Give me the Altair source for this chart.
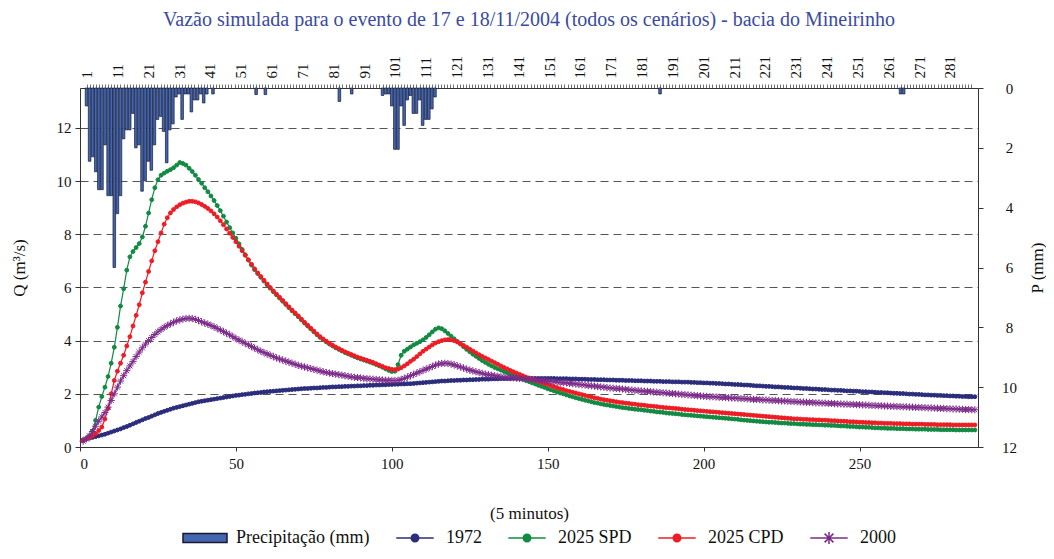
import altair as alt
import pandas as pd

FONT = "Liberation Serif"

# ---------------- data ----------------
steps = list(range(1, 288))  # 5-minute steps

q_1972 = [
    0.27, 0.30, 0.33, 0.36, 0.39, 0.42, 0.45, 0.48, 0.52, 0.56,
    0.60, 0.64, 0.68, 0.73, 0.77, 0.82, 0.87, 0.92, 0.97, 1.02,
    1.07, 1.11, 1.16, 1.21, 1.26, 1.30, 1.34, 1.38, 1.42, 1.46,
    1.49, 1.52, 1.55, 1.58, 1.61, 1.64, 1.67, 1.70, 1.72, 1.74,
    1.76, 1.78, 1.80, 1.82, 1.84, 1.86, 1.88, 1.90, 1.92, 1.94,
    1.95, 1.97, 1.98, 2.00, 2.01, 2.03, 2.04, 2.05, 2.07, 2.08,
    2.09, 2.10, 2.11, 2.12, 2.13, 2.14, 2.15, 2.16, 2.17, 2.18,
    2.19, 2.20, 2.20, 2.21, 2.22, 2.22, 2.23, 2.24, 2.24, 2.25,
    2.26, 2.26, 2.27, 2.27, 2.28, 2.28, 2.29, 2.29, 2.30, 2.30,
    2.31, 2.31, 2.32, 2.32, 2.33, 2.33, 2.34, 2.34, 2.35, 2.35,
    2.36, 2.36, 2.37, 2.37, 2.38, 2.38, 2.39, 2.40, 2.41, 2.42,
    2.43, 2.44, 2.45, 2.46, 2.47, 2.48, 2.48, 2.49, 2.50, 2.50,
    2.51, 2.51, 2.52, 2.52, 2.53, 2.53, 2.54, 2.54, 2.55, 2.55,
    2.55, 2.56, 2.56, 2.56, 2.57, 2.57, 2.57, 2.57, 2.58, 2.58,
    2.58, 2.58, 2.58, 2.58, 2.58, 2.58, 2.58, 2.58, 2.58, 2.58,
    2.58, 2.58, 2.57, 2.57, 2.57, 2.57, 2.56, 2.56, 2.56, 2.55,
    2.55, 2.55, 2.54, 2.54, 2.54, 2.53, 2.53, 2.53, 2.52, 2.52,
    2.52, 2.51, 2.51, 2.51, 2.50, 2.50, 2.50, 2.49, 2.49, 2.49,
    2.48, 2.48, 2.48, 2.47, 2.47, 2.47, 2.46, 2.46, 2.46, 2.45,
    2.45, 2.45, 2.44, 2.44, 2.44, 2.43, 2.43, 2.42, 2.42, 2.41,
    2.41, 2.40, 2.40, 2.39, 2.39, 2.38, 2.37, 2.37, 2.36, 2.35,
    2.35, 2.34, 2.33, 2.33, 2.32, 2.31, 2.30, 2.30, 2.29, 2.28,
    2.28, 2.27, 2.26, 2.26, 2.25, 2.24, 2.24, 2.23, 2.22, 2.22,
    2.21, 2.20, 2.20, 2.19, 2.18, 2.18, 2.17, 2.16, 2.16, 2.15,
    2.14, 2.14, 2.13, 2.13, 2.12, 2.11, 2.11, 2.10, 2.10, 2.09,
    2.08, 2.08, 2.07, 2.07, 2.06, 2.05, 2.05, 2.04, 2.04, 2.03,
    2.02, 2.02, 2.01, 2.01, 2.00, 1.99, 1.99, 1.98, 1.98, 1.97,
    1.96, 1.96, 1.95, 1.95, 1.94, 1.94, 1.93, 1.93, 1.92, 1.92,
    1.91, 1.91, 1.90, 1.90, 1.89, 1.89, 1.89,
]

q_2025_spd = [
    0.25, 0.32, 0.42, 0.60, 1.00, 1.50, 1.90, 2.25, 2.65, 3.15,
    3.75, 4.50, 5.30, 5.95, 6.65, 7.15, 7.35, 7.50, 7.65, 7.90,
    8.30, 8.80, 9.30, 9.75, 10.05, 10.22, 10.30, 10.37, 10.43, 10.50,
    10.60, 10.70, 10.66, 10.60, 10.48, 10.36, 10.22, 10.06, 9.92, 9.75,
    9.60, 9.44, 9.27, 9.08, 8.89, 8.68, 8.46, 8.25, 8.05, 7.85,
    7.64, 7.43, 7.23, 7.03, 6.84, 6.67, 6.52, 6.38, 6.24, 6.10,
    5.97, 5.84, 5.72, 5.60, 5.48, 5.36, 5.24, 5.12, 5.01, 4.90,
    4.78, 4.66, 4.55, 4.44, 4.33, 4.22, 4.12, 4.03, 3.95, 3.87,
    3.80, 3.73, 3.67, 3.61, 3.55, 3.50, 3.45, 3.40, 3.35, 3.31,
    3.27, 3.23, 3.19, 3.15, 3.10, 3.05, 3.00, 2.94, 2.88, 2.84,
    2.85, 3.10, 3.45, 3.60, 3.68, 3.76, 3.84, 3.90, 3.96, 4.03,
    4.12, 4.22, 4.33, 4.43, 4.48, 4.45, 4.37, 4.27, 4.17, 4.07,
    3.97, 3.87, 3.77, 3.67, 3.58, 3.49, 3.41, 3.33, 3.25, 3.18,
    3.11, 3.05, 2.99, 2.94, 2.89, 2.84, 2.79, 2.74, 2.69, 2.65,
    2.60, 2.55, 2.50, 2.46, 2.41, 2.37, 2.32, 2.28, 2.24, 2.19,
    2.15, 2.11, 2.07, 2.03, 2.00, 1.96, 1.92, 1.89, 1.85, 1.82,
    1.79, 1.76, 1.73, 1.70, 1.67, 1.65, 1.62, 1.60, 1.58, 1.56,
    1.54, 1.52, 1.50, 1.48, 1.47, 1.45, 1.44, 1.42, 1.41, 1.40,
    1.38, 1.37, 1.35, 1.34, 1.32, 1.31, 1.30, 1.28, 1.27, 1.26,
    1.25, 1.24, 1.22, 1.21, 1.20, 1.19, 1.18, 1.17, 1.16, 1.15,
    1.14, 1.13, 1.12, 1.11, 1.10, 1.09, 1.08, 1.07, 1.06, 1.05,
    1.04, 1.02, 1.01, 1.00, 0.99, 0.98, 0.97, 0.96, 0.95, 0.94,
    0.93, 0.93, 0.92, 0.91, 0.90, 0.90, 0.89, 0.88, 0.88, 0.87,
    0.86, 0.86, 0.85, 0.85, 0.84, 0.84, 0.83, 0.83, 0.82, 0.82,
    0.81, 0.81, 0.80, 0.79, 0.79, 0.78, 0.77, 0.77, 0.76, 0.75,
    0.75, 0.74, 0.74, 0.73, 0.72, 0.72, 0.71, 0.71, 0.70, 0.70,
    0.70, 0.69, 0.69, 0.69, 0.68, 0.68, 0.68, 0.67, 0.67, 0.67,
    0.67, 0.66, 0.66, 0.66, 0.66, 0.65, 0.65, 0.65, 0.65, 0.65,
    0.64, 0.64, 0.64, 0.64, 0.64, 0.64, 0.64,
]

q_2025_cpd = [
    0.25, 0.30, 0.35, 0.42, 0.50, 0.62, 0.75, 1.05, 1.45, 2.00,
    2.50, 2.85, 3.15, 3.45, 3.80, 4.15, 4.55, 4.95, 5.35, 5.80,
    6.20, 6.60, 7.00, 7.38, 7.72, 8.05, 8.38, 8.62, 8.80, 8.93,
    9.03, 9.11, 9.17, 9.21, 9.24, 9.24, 9.22, 9.18, 9.12, 9.05,
    8.97, 8.88, 8.77, 8.65, 8.51, 8.36, 8.20, 8.04, 7.88, 7.72,
    7.55, 7.38, 7.21, 7.04, 6.87, 6.70, 6.55, 6.41, 6.27, 6.13,
    6.00, 5.87, 5.75, 5.63, 5.51, 5.39, 5.27, 5.15, 5.04, 4.93,
    4.81, 4.69, 4.58, 4.47, 4.36, 4.25, 4.15, 4.06, 3.98, 3.90,
    3.83, 3.76, 3.70, 3.64, 3.58, 3.53, 3.48, 3.43, 3.38, 3.34,
    3.30, 3.26, 3.22, 3.18, 3.13, 3.08, 3.03, 2.98, 2.95, 2.92,
    2.91, 2.93, 2.98, 3.05, 3.13, 3.22, 3.30, 3.40, 3.50, 3.60,
    3.68, 3.76, 3.84, 3.91, 3.96, 4.00, 4.03, 4.04, 4.03, 4.00,
    3.95, 3.89, 3.82, 3.75, 3.68, 3.61, 3.54, 3.47, 3.41, 3.35,
    3.29, 3.23, 3.17, 3.11, 3.05, 2.99, 2.94, 2.88, 2.83, 2.78,
    2.73, 2.68, 2.63, 2.59, 2.55, 2.51, 2.47, 2.43, 2.39, 2.35,
    2.31, 2.27, 2.23, 2.19, 2.16, 2.12, 2.09, 2.06, 2.03, 2.00,
    1.97, 1.94, 1.91, 1.88, 1.85, 1.83, 1.80, 1.78, 1.76, 1.74,
    1.72, 1.70, 1.68, 1.67, 1.65, 1.64, 1.62, 1.61, 1.59, 1.58,
    1.57, 1.55, 1.54, 1.53, 1.52, 1.50, 1.49, 1.48, 1.47, 1.46,
    1.45, 1.44, 1.42, 1.41, 1.40, 1.39, 1.38, 1.37, 1.36, 1.35,
    1.34, 1.33, 1.32, 1.31, 1.30, 1.29, 1.28, 1.27, 1.26, 1.25,
    1.24, 1.23, 1.22, 1.21, 1.20, 1.19, 1.18, 1.17, 1.16, 1.15,
    1.14, 1.13, 1.12, 1.11, 1.10, 1.09, 1.08, 1.07, 1.06, 1.06,
    1.05, 1.04, 1.04, 1.03, 1.03, 1.02, 1.02, 1.01, 1.01, 1.00,
    0.99, 0.99, 0.98, 0.97, 0.97, 0.96, 0.95, 0.95, 0.94, 0.93,
    0.93, 0.92, 0.92, 0.91, 0.91, 0.90, 0.90, 0.89, 0.89, 0.89,
    0.88, 0.88, 0.88, 0.87, 0.87, 0.87, 0.86, 0.86, 0.86, 0.86,
    0.85, 0.85, 0.85, 0.85, 0.84, 0.84, 0.84, 0.84, 0.84, 0.83,
    0.83, 0.83, 0.83, 0.83, 0.83, 0.83, 0.83,
]

q_2000 = [
    0.22, 0.30, 0.42, 0.58, 0.78, 0.97, 1.13, 1.30, 1.50, 1.75,
    2.00, 2.25, 2.48, 2.68, 2.87, 3.05, 3.22, 3.40, 3.57, 3.73,
    3.87, 4.00, 4.12, 4.23, 4.33, 4.42, 4.50, 4.57, 4.63, 4.69,
    4.74, 4.78, 4.81, 4.83, 4.84, 4.83, 4.80, 4.76, 4.71, 4.66,
    4.62, 4.57, 4.52, 4.46, 4.40, 4.34, 4.28, 4.22, 4.15, 4.08,
    4.02, 3.96, 3.90, 3.84, 3.78, 3.72, 3.66, 3.60, 3.55, 3.50,
    3.45, 3.40, 3.35, 3.31, 3.27, 3.23, 3.19, 3.15, 3.11, 3.07,
    3.04, 3.01, 2.98, 2.95, 2.92, 2.89, 2.86, 2.83, 2.80, 2.78,
    2.76, 2.74, 2.72, 2.70, 2.68, 2.66, 2.64, 2.62, 2.61, 2.60,
    2.58, 2.57, 2.56, 2.55, 2.54, 2.53, 2.52, 2.51, 2.51, 2.50,
    2.50, 2.51, 2.54, 2.58, 2.63, 2.68, 2.73, 2.78, 2.83, 2.88,
    2.93, 2.98, 3.03, 3.08, 3.12, 3.14, 3.15, 3.14, 3.12, 3.09,
    3.05, 3.01, 2.97, 2.93, 2.89, 2.86, 2.83, 2.80, 2.77, 2.74,
    2.72, 2.70, 2.68, 2.66, 2.64, 2.63, 2.62, 2.61, 2.60, 2.59,
    2.58, 2.57, 2.56, 2.55, 2.54, 2.53, 2.52, 2.50, 2.49, 2.48,
    2.47, 2.46, 2.44, 2.43, 2.42, 2.41, 2.39, 2.38, 2.37, 2.35,
    2.34, 2.33, 2.31, 2.30, 2.29, 2.27, 2.26, 2.25, 2.23, 2.22,
    2.21, 2.20, 2.19, 2.18, 2.17, 2.15, 2.14, 2.13, 2.12, 2.11,
    2.10, 2.09, 2.08, 2.07, 2.06, 2.05, 2.04, 2.03, 2.02, 2.01,
    2.00, 1.99, 1.98, 1.97, 1.96, 1.95, 1.94, 1.93, 1.92, 1.91,
    1.90, 1.89, 1.89, 1.88, 1.87, 1.86, 1.86, 1.85, 1.84, 1.84,
    1.83, 1.82, 1.82, 1.81, 1.80, 1.79, 1.79, 1.78, 1.77, 1.77,
    1.76, 1.75, 1.75, 1.74, 1.73, 1.73, 1.72, 1.71, 1.71, 1.70,
    1.69, 1.69, 1.68, 1.68, 1.67, 1.66, 1.66, 1.65, 1.65, 1.64,
    1.64, 1.63, 1.62, 1.62, 1.61, 1.61, 1.60, 1.60, 1.59, 1.59,
    1.58, 1.58, 1.57, 1.56, 1.56, 1.55, 1.55, 1.54, 1.54, 1.53,
    1.53, 1.52, 1.52, 1.51, 1.51, 1.50, 1.50, 1.49, 1.49, 1.48,
    1.48, 1.47, 1.47, 1.46, 1.46, 1.45, 1.45, 1.44, 1.44, 1.43,
    1.43, 1.42, 1.42, 1.41, 1.41, 1.40, 1.40,
]

# precipitation (mm) per 5-minute interval (only non-zero intervals)
precip_bar = [1, 2, 3, 4, 5, 6, 7, 8, 9, 10, 11, 12, 13, 14, 15, 16, 17, 18, 19, 20,
              21, 22, 23, 24, 25, 26, 27, 28, 29, 30, 31, 32, 33, 34, 35, 36, 37, 38,
              39, 40, 42, 56, 59, 83, 87, 97, 98, 99, 100, 101, 102, 103, 104, 105,
              106, 107, 108, 109, 110, 111, 112, 113, 114, 187, 265, 266]
precip_mm = [0.60, 2.45, 2.30, 2.80, 3.40, 3.40, 1.90, 3.60, 3.60, 6.00, 4.20, 3.60,
             1.70, 1.40, 1.40, 0.85, 2.00, 1.90, 3.45, 3.10, 2.45, 2.75, 1.90, 1.05,
             0.95, 1.45, 2.50, 1.40, 1.20, 0.30, 0.20, 1.05, 0.20, 0.20, 0.80, 0.40,
             0.40, 0.20, 0.50, 0.20, 0.20, 0.22, 0.22, 0.45, 0.20, 0.25, 0.20, 0.20,
             0.60, 2.05, 2.05, 0.60, 1.25, 0.40, 0.25, 0.85, 0.85, 0.40, 1.25, 1.05,
             1.05, 0.70, 0.30, 0.20, 0.20, 0.20]

top_tick_labels = [1, 11, 21, 31, 41, 51, 61, 71, 81, 91, 101, 111, 121, 131, 141,
                   151, 161, 171, 181, 191, 201, 211, 221, 231, 241, 251, 261, 271, 281]
n_intervals = 288

series_names = ["Precipitação (mm)", "1972", "2025 SPD", "2025 CPD", "2000"]
fill_colors = ["#4466b0", "#2b2d7c", "#128a43", "#ee1c24", "#7d2b8b"]
stroke_colors = ["#151a30", "#2b2d7c", "#128a43", "#ee1c24", "#7d2b8b"]
legend_shapes = [
    "M-1,-0.2H1V0.2H-1Z",
    "M-0.85,0H0.85M0.17,0A0.17,0.17,0,1,1,-0.17,0A0.17,0.17,0,1,1,0.17,0Z",
    "M-0.85,0H0.85M0.17,0A0.17,0.17,0,1,1,-0.17,0A0.17,0.17,0,1,1,0.17,0Z",
    "M-0.85,0H0.85M0.17,0A0.17,0.17,0,1,1,-0.17,0A0.17,0.17,0,1,1,0.17,0Z",
    "M-0.85,0H0.85M-0.2,-0.2L0.2,0.2M-0.2,0.2L0.2,-0.2M0,-0.27V0.27",
]
ASTERISK = "M-1,0H1M0,-1V1M-0.7,-0.7L0.7,0.7M-0.7,0.7L0.7,-0.7"

# ---------------- tables ----------------
rows = []
for name, vals in [("1972", q_1972), ("2025 SPD", q_2025_spd),
                   ("2025 CPD", q_2025_cpd), ("2000", q_2000)]:
    for t, v in zip(steps, vals):
        rows.append({"t": t, "Q": v, "series": name})
df_q = pd.DataFrame(rows)
df_circ = df_q[df_q["series"] != "2000"]
df_star = df_q[df_q["series"] == "2000"]

df_p = pd.DataFrame({"pos": [b - 0.5 for b in precip_bar], "P": precip_mm,
                     "series": series_names[0]})
df_leg = pd.DataFrame({"series": series_names, "t": -100, "Q": 1.0})

# ---------------- scales & axes ----------------
fill_scale = alt.Scale(domain=series_names, range=fill_colors)
stroke_scale = alt.Scale(domain=series_names, range=stroke_colors)
shape_scale = alt.Scale(domain=series_names, range=legend_shapes)

x_scale = alt.Scale(domain=[0, n_intervals], nice=False, zero=False)
q_scale = alt.Scale(domain=[0, 13.5], nice=False)
p_scale = alt.Scale(domain=[0, 12], reverse=True, nice=False)

AX = dict(labelFont=FONT, titleFont=FONT, labelColor="#111", titleColor="#111",
          domainColor="#333", tickColor="#333", titleFontWeight="normal")

x_axis = alt.Axis(values=[0, 50, 100, 150, 200, 250], title="(5 minutos)",
                  labelFontSize=15, titleFontSize=17, tickSize=4, labelPadding=5,
                  titlePadding=34, grid=False, **AX)
q_axis = alt.Axis(values=[0, 2, 4, 6, 8, 10, 12], title="Q (m³/s)",
                  labelFontSize=15, titleFontSize=17, tickSize=5, labelPadding=4,
                  titlePadding=28, grid=True, gridDash=[8, 5], gridColor="#555",
                  gridWidth=1.1, **AX)

top_values = [b - 0.5 for b in range(1, n_intervals + 1)]
top_axis = alt.Axis(orient="top", values=top_values, title=None,
                    labelExpr="(datum.value + 0.5 - 1) % 10 == 0 ? format(datum.value + 0.5, 'd') : ''",
                    labelAngle=270, labelAlign="left", labelBaseline="middle",
                    labelOverlap=False, labelFontSize=15, tickSize=4, tickWidth=0.7,
                    labelPadding=6, grid=False, **AX)
p_axis = alt.Axis(orient="right", values=[0, 2, 4, 6, 8, 10, 12], title="P (mm)",
                  labelFontSize=15, titleFontSize=17, tickSize=5, labelPadding=26,
                  labelAlign="center", titlePadding=30, titleAngle=270, grid=False, **AX)

X = alt.X("t:Q", scale=x_scale, axis=x_axis)
Y = alt.Y("Q:Q", scale=q_scale, axis=q_axis)
FILL = alt.Fill("series:N", scale=fill_scale, title=None)
STROKE = alt.Stroke("series:N", scale=stroke_scale, title=None)

legend_helper = alt.Chart(df_leg).mark_point(filled=True, clip=True, opacity=1).encode(
    x=X, y=Y, fill=FILL, stroke=STROKE,
    shape=alt.Shape("series:N", scale=shape_scale, title=None),
)

lines = alt.Chart(df_q).mark_line(strokeWidth=1.2).encode(
    x=X, y=Y, stroke=STROKE, detail="series:N")

pts_circle = alt.Chart(df_circ).mark_point(
    filled=True, shape="circle", size=15, strokeWidth=1, opacity=1).encode(
    x=X, y=Y, fill=FILL, stroke=STROKE)

pts_star = alt.Chart(df_star).mark_point(
    filled=False, shape=ASTERISK, size=52, strokeWidth=1, opacity=1).encode(
    x=X, y=Y, stroke=STROKE)

inner = alt.layer(legend_helper, lines, pts_circle, pts_star)

bars = alt.Chart(df_p).mark_bar(size=2.6, strokeWidth=0.7).encode(
    x=alt.X("pos:Q", scale=x_scale, axis=top_axis),
    y=alt.Y("P:Q", scale=p_scale, axis=p_axis),
    y2=alt.datum(0),
    fill=FILL, stroke=STROKE,
)

chart = alt.layer(inner, bars).resolve_scale(
    x="independent", y="independent"
).properties(
    width=898, height=359,
    padding={"left": 72, "top": 80, "right": 68, "bottom": 104},
    autosize=alt.AutoSizeParams(type="none"),
    title=alt.TitleParams(
        "Vazão simulada para o evento de 17 e 18/11/2004 (todos os cenários) - bacia do Mineirinho",
        font=FONT, fontSize=20, fontWeight="normal", color="#3a4aa3",
        anchor="middle", offset=26),
).configure_view(stroke=None).configure_legend(
    orient="none", legendX=102, legendY=427, direction="horizontal",
    symbolSize=1936, symbolStrokeWidth=1.5, labelFont=FONT, labelFontSize=18,
    labelColor="#111", labelOffset=8, columnPadding=22,
)

chart.save("out.html", embed_options={"renderer": "svg", "actions": False})
